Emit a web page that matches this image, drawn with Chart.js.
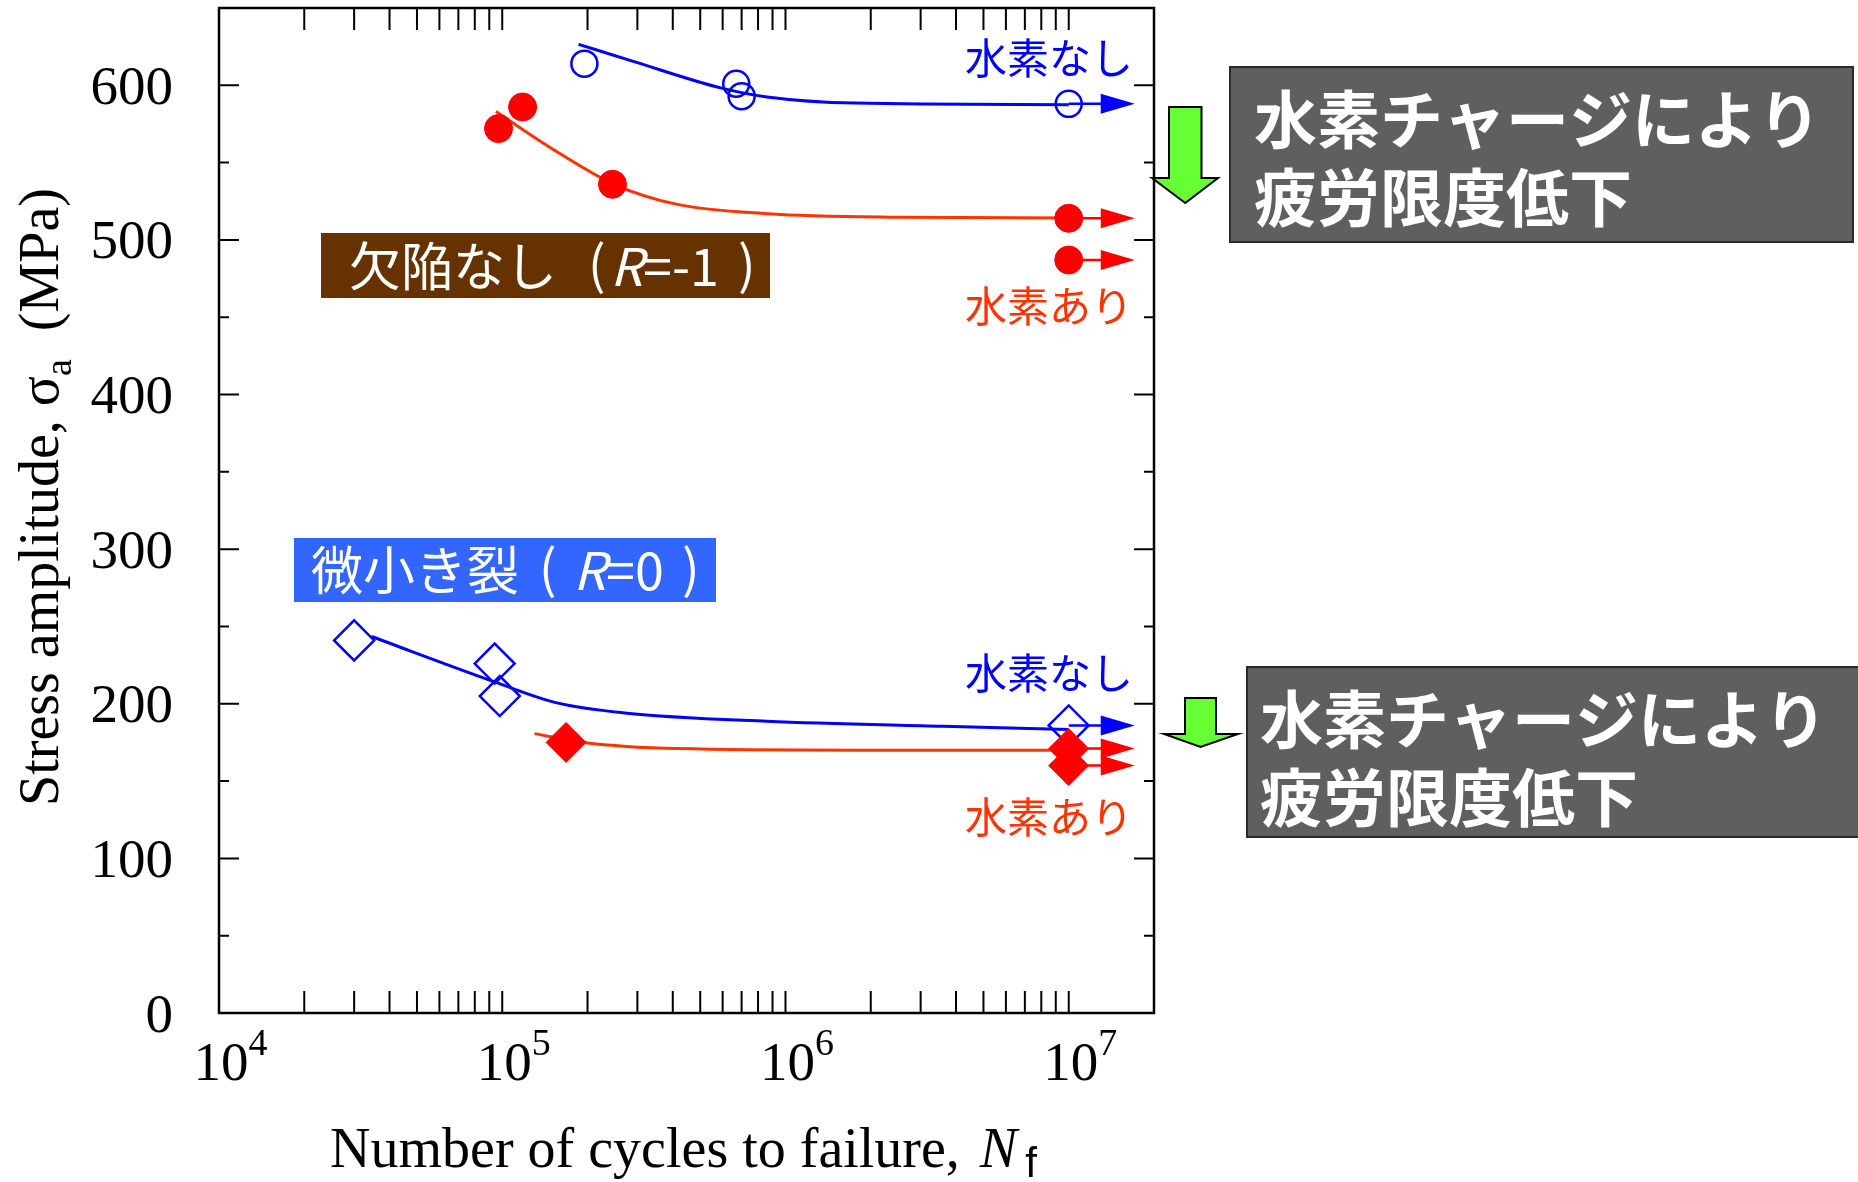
<!DOCTYPE html>
<html>
<head>
<meta charset="utf-8">
<script src="https://cdn.jsdelivr.net/npm/chart.js@4.4.1/dist/chart.umd.min.js"></script>
<style>
  html, body { margin: 0; padding: 0; background: #fff; }
</style>
</head>
<body>
<canvas id="myChart" width="1858" height="1182"></canvas>
<script>
// 欠陥なし (R=-1)
const smoothNoH_N = [1.95e5, 6.7e5, 7.0e5, 1.0e7];
const smoothNoH_S = [614, 601, 593, 588];
const smoothH_N = [9.7e4, 1.18e5, 2.45e5, 1.0e7, 1.0e7];
const smoothH_S = [572, 586, 536, 514, 487];
// 微小き裂 (R=0)
const crackNoH_N = [3.0e4, 9.4e4, 9.8e4, 1.0e7];
const crackNoH_S = [241, 226, 205, 186];
const crackH_N = [1.68e5, 1.0e7, 1.0e7];
const crackH_S = [175, 171, 160];

// fitted S-N curves
const fitSmoothNoH_N = [1.86e5, 2.9e5, 6.0e5, 8.6e5, 1.76e6, 1.0e7];
const fitSmoothNoH_S = [626.5, 615.5, 598, 592.5, 588.5, 587.5];
const fitSmoothH_N = [9.5e4, 1.56e5, 2.48e5, 4.15e5, 8.6e5, 2.5e6, 1.0e7];
const fitSmoothH_S = [583, 557, 536, 523, 517, 514.7, 514.2];
const fitCrackNoH_N = [3.45e4, 9.45e4, 1.56e5, 2.7e5, 8.6e5, 3.6e6, 1.0e7];
const fitCrackNoH_S = [243.5, 214, 200.6, 194.1, 188.7, 185.4, 183.3];
const fitCrackH_N = [1.3e5, 1.94e5, 4.15e5, 1.76e6, 1.0e7];
const fitCrackH_S = [180.7, 175, 171, 170, 170];

const runoutN = 1e7;

const xDecades = [1e4, 1e5, 1e6, 1e7];
const xTickVals = [2e4, 3e4, 4e4, 5e4, 6e4, 7e4, 8e4, 9e4,
                   1e5, 2e5, 3e5, 4e5, 5e5, 6e5, 7e5, 8e5, 9e5,
                   1e6, 2e6, 3e6, 4e6, 5e6, 6e6, 7e6, 8e6, 9e6, 1e7];
const yTickVals = [0, 100, 200, 300, 400, 500, 600];
const yMinorVals = [50, 150, 250, 350, 450, 550];

const BLUE = '#0000ff', RED = '#ff0000', ORANGE = '#ff3300';
const SERIF = '"Liberation Serif", "Times New Roman", serif';
const JP = '"Noto Sans CJK JP", "Noto Sans", sans-serif';

function pts(ns, ss) { return ns.map((n, i) => ({ x: n, y: ss[i] })); }

const runoutArrows = {
  id: 'runoutArrows',
  afterDatasetsDraw(chart) {
    const c = chart.ctx;
    chart.data.datasets.forEach((ds, i) => {
      if (!ds.arrowColor) return;
      const meta = chart.getDatasetMeta(i);
      meta.data.forEach((el, j) => {
        if (ds.data[j].x < runoutN) return;
        c.save();
        c.strokeStyle = ds.arrowColor;
        c.fillStyle = ds.arrowColor;
        c.lineWidth = 2.5;
        c.beginPath();
        c.moveTo(el.x, el.y);
        c.lineTo(el.x + 34, el.y);
        c.stroke();
        c.beginPath();
        c.moveTo(el.x + 32, el.y - 10);
        c.lineTo(el.x + 66, el.y);
        c.lineTo(el.x + 32, el.y + 10);
        c.closePath();
        c.fill();
        c.restore();
      });
    });
  }
};

function drawRuns(c, runs, x, y) {
  // runs: [text, font, dy, dx]
  runs.forEach(r => {
    c.font = r[1];
    x += r[3] || 0;
    c.fillText(r[0], x, y + (r[2] || 0));
    x += c.measureText(r[0]).width;
  });
}
function runsWidth(c, runs) {
  let w = 0;
  runs.forEach(r => { c.font = r[1]; w += c.measureText(r[0]).width + (r[3] || 0); });
  return w;
}

function greenArrow(c, sl, sr, top, hy, hl, hr, tipY) {
  const cx = (sl + sr) / 2;
  c.beginPath();
  c.moveTo(sl, top);
  c.lineTo(sr, top);
  c.lineTo(sr, hy);
  c.lineTo(hr, hy);
  c.lineTo(cx, tipY);
  c.lineTo(hl, hy);
  c.lineTo(sl, hy);
  c.closePath();
  c.fillStyle = '#66ff33';
  c.fill();
  c.strokeStyle = '#000';
  c.lineWidth = 2;
  c.stroke();
}

const frameAndNotes = {
  id: 'frameAndNotes',
  afterDraw(chart) {
    const c = chart.ctx, a = chart.chartArea;
    const xs = chart.scales.x, ys = chart.scales.y;
    c.save();
    // frame and inward ticks
    c.strokeStyle = '#000';
    c.lineWidth = 2.5;
    c.strokeRect(a.left, a.top, a.right - a.left, a.bottom - a.top);
    c.lineWidth = 2;
    c.beginPath();
    xTickVals.forEach(v => {
      const x = xs.getPixelForValue(v);
      c.moveTo(x, a.bottom); c.lineTo(x, a.bottom - 22);
      c.moveTo(x, a.top); c.lineTo(x, a.top + 22);
    });
    yTickVals.forEach(v => {
      const y = ys.getPixelForValue(v);
      c.moveTo(a.left, y); c.lineTo(a.left + 20, y);
      c.moveTo(a.right, y); c.lineTo(a.right - 20, y);
    });
    yMinorVals.forEach(v => {
      const y = ys.getPixelForValue(v);
      c.moveTo(a.left, y); c.lineTo(a.left + 10, y);
      c.moveTo(a.right, y); c.lineTo(a.right - 10, y);
    });
    c.stroke();

    // tick labels
    c.fillStyle = '#000';
    c.textBaseline = 'alphabetic';
    c.font = '55px ' + SERIF;
    c.textAlign = 'right';
    yTickVals.forEach(v => {
      c.fillText(String(v), 173, ys.getPixelForValue(v) + 18.5);
    });
    c.textAlign = 'left';
    xDecades.forEach(v => {
      const x = xs.getPixelForValue(v);
      c.font = '55px ' + SERIF;
      const w = c.measureText('10').width;
      c.fillText('10', x - w / 2 + 2, a.bottom + 67);
      c.font = '38px ' + SERIF;
      c.fillText(String(Math.round(Math.log10(v))), x + w / 2 + 2, a.bottom + 42);
    });

    // axis titles
    const xt = [['Number of cycles to failure, ', '56px ' + SERIF],
                ['N', 'italic 56px ' + SERIF, 0, 6],
                ['f', '42px "Liberation Sans", sans-serif', 10, 8]];
    const xw = runsWidth(c, xt);
    drawRuns(c, xt, (a.left + a.right) / 2 - xw / 2 - 3, 1167);

    const yt = [['Stress amplitude, σ', '56px ' + SERIF],
                ['a', '38px ' + SERIF, 13],
                ['  (MPa)', '56px ' + SERIF]];
    const yw = runsWidth(c, yt);
    c.save();
    c.translate(58, 497);
    c.rotate(-Math.PI / 2);
    drawRuns(c, yt, -yw / 2, 0);
    c.restore();

    // hydrogen labels
    c.textAlign = 'right';
    c.textBaseline = 'middle';
    c.font = '42px ' + JP;
    c.fillStyle = BLUE;
    c.fillText('水素なし', 1133, 58);
    c.fillText('水素なし', 1133, 673);
    c.fillStyle = ORANGE;
    c.fillText('水素あり', 1133, 306);
    c.fillText('水素あり', 1133, 817);

    // specimen boxes
    c.textAlign = 'left';
    c.fillStyle = '#663300';
    c.fillRect(321, 233, 449, 65);
    c.fillStyle = '#fff';
    c.font = '52px ' + JP;
    c.fillText('欠陥なし', 349, 266);
    c.fillText('(', 588, 264);
    c.font = 'italic 52px ' + JP;
    c.fillText('R', 610, 266);
    const rw = c.measureText('R').width;
    c.font = '52px ' + JP;
    c.fillText('=-1', 610 + rw, 266);
    c.fillText(')', 738, 264);

    c.fillStyle = '#3366ff';
    c.fillRect(294, 538, 422, 64);
    c.fillStyle = '#fff';
    c.fillText('微小き裂', 311, 570);
    c.fillText('(', 539, 568);
    c.font = 'italic 52px ' + JP;
    c.fillText('R', 573, 570);
    const rw2 = c.measureText('R').width;
    c.font = '52px ' + JP;
    c.fillText('=0', 573 + rw2, 570);
    c.fillText(')', 682, 568);

    // gray notes
    [[1230, 67, 623, 175, 1254, 119], [1247, 667, 640, 170, 1260, 719]].forEach(b => {
      c.fillStyle = '#5f5f5f';
      c.fillRect(b[0], b[1], b[2], b[3]);
      c.strokeStyle = '#2a2a2a';
      c.lineWidth = 2;
      c.strokeRect(b[0], b[1], b[2], b[3]);
      c.fillStyle = '#fff';
      c.font = 'bold 63px ' + JP;
      c.fillText('水素チャージにより', b[4], b[5]);
      c.fillText('疲労限度低下', b[4], b[5] + 78);
    });

    greenArrow(c, 1169, 1201.5, 107, 178, 1152, 1218, 203);
    greenArrow(c, 1185, 1216, 698, 734, 1164, 1238, 747);
    c.restore();
  }
};

const lineDefaults = { showLine: true, pointRadius: 0, borderWidth: 3, cubicInterpolationMode: 'monotone', order: 10 };

const myChart = new Chart(document.getElementById('myChart').getContext('2d'), {
  type: 'scatter',
  data: {
    datasets: [
      { label: '欠陥なし 水素なし', data: pts(smoothNoH_N, smoothNoH_S), pointStyle: 'circle', pointRadius: 13,
        borderColor: BLUE, backgroundColor: 'rgba(0,0,0,0)', borderWidth: 2.5, arrowColor: BLUE, order: 2 },
      { label: '欠陥なし 水素あり', data: pts(smoothH_N, smoothH_S), pointStyle: 'circle', pointRadius: 14,
        borderColor: RED, backgroundColor: RED, borderWidth: 1, arrowColor: RED, order: 1 },
      { label: '微小き裂 水素なし', data: pts(crackNoH_N, crackNoH_S), pointStyle: 'rectRot', pointRadius: 20,
        borderColor: BLUE, backgroundColor: 'rgba(0,0,0,0)', borderWidth: 2.5, arrowColor: BLUE, order: 2 },
      { label: '微小き裂 水素あり', data: pts(crackH_N, crackH_S), pointStyle: 'rectRot', pointRadius: 20,
        borderColor: RED, backgroundColor: RED, borderWidth: 1, arrowColor: RED, order: 1 },
      Object.assign({ label: 'fit 1', data: pts(fitSmoothNoH_N, fitSmoothNoH_S), borderColor: BLUE }, lineDefaults),
      Object.assign({ label: 'fit 2', data: pts(fitSmoothH_N, fitSmoothH_S), borderColor: ORANGE }, lineDefaults),
      Object.assign({ label: 'fit 3', data: pts(fitCrackNoH_N, fitCrackNoH_S), borderColor: BLUE }, lineDefaults),
      Object.assign({ label: 'fit 4', data: pts(fitCrackH_N, fitCrackH_S), borderColor: ORANGE }, lineDefaults)
    ]
  },
  options: {
    responsive: false,
    animation: false,
    devicePixelRatio: 1,
    layout: { autoPadding: false, padding: { left: 219, right: 704, top: 8, bottom: 169 } },
    plugins: { legend: { display: false }, tooltip: { enabled: false } },
    scales: {
      x: { type: 'logarithmic', min: 1e4, max: 2e7, display: false },
      y: { type: 'linear', min: 0, max: 650, display: false }
    }
  },
  plugins: [runoutArrows, frameAndNotes]
});
</script>
</body>
</html>
